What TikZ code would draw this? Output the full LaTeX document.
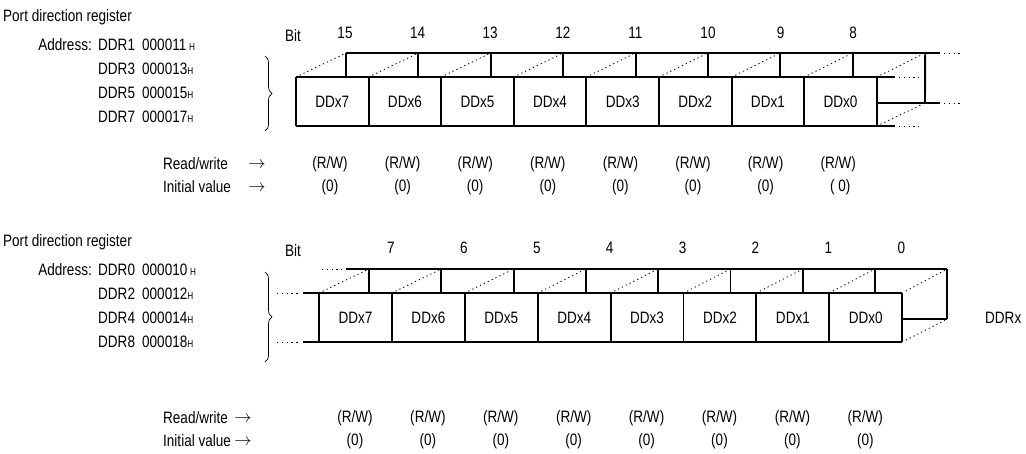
\documentclass[tikz,border=0pt]{standalone}
\usepackage{fontspec}
\setmainfont{Liberation Sans}[FakeStretch=0.82]
\usetikzlibrary{decorations.pathreplacing}
\begin{document}
\begin{tikzpicture}[x=1pt,y=-1pt,
  reg/.style={line width=1.9pt},
  hid/.style={line width=0.8pt, dash pattern=on 1.3pt off 3pt, shorten <=4pt, shorten >=3pt},
  cont/.style={line width=0.8pt, dash pattern=on 1.3pt off 3.5pt},
  txt/.style={inner sep=0pt, font=\fontsize{16.5}{19}\selectfont},
  br/.style={decorate, decoration={brace, amplitude=7pt}, line width=0.7pt}]
\useasboundingbox (0,0) rectangle (1026,454);
\newcommand{\Hs}{{\fontsize{10}{10}\selectfont H}}

% ---------------- top register ----------------
\foreach \i in {0,...,8} {
  \coordinate (TFt\i) at ({296+\i*72.6},77);
  \coordinate (TFb\i) at ({296+\i*72.6},126);
  \coordinate (TBt\i) at ({346+\i*72.4},53);
  \coordinate (TBb\i) at ({346+\i*72.4},77);
}
\coordinate (TBr) at (925,103);
\coordinate (TFtE) at (895,77);  \coordinate (TFtD) at (919,77);
\coordinate (TFbE) at (895,126); \coordinate (TFbD) at (919,126);
\coordinate (TBtE) at (940,53);  \coordinate (TBtD) at (963,53);
\coordinate (TBbE) at (940,103); \coordinate (TBbD) at (963,103);
\draw[reg] (TFt0) -- (TFtE);
\draw[reg] (TFb0) -- (TFbE);
\draw[reg] (TBt0) -- (TBtE);
\draw[reg] (TFt8 |- TBr) -- (TBbE);
\foreach \i in {0,...,8} \draw[reg] (TFt\i) -- (TFb\i);
\foreach \i in {0,...,7} \draw[reg] (TBt\i) -- (TBb\i);
\draw[reg] (TBt8) -- (TBr);
\foreach \i in {0,...,8} \draw[hid] (TFt\i) -- (TBt\i);
\draw[hid] (TFb8) -- (TBr);
\draw[cont] ([xshift=4pt]TFtE) -- (TFtD);
\draw[cont] ([xshift=4pt]TFbE) -- (TFbD);
\draw[cont] ([xshift=4pt]TBtE) -- (TBtD);
\draw[cont] ([xshift=4pt]TBbE) -- (TBbD);
\foreach \n [count=\i from 0] in {7,6,5,4,3,2,1,0}
  \node[txt] (tc\i) at ({332.3+\i*72.6},101.5) {DDx\n};

% labels top
\node[txt, anchor=west] (tpdr) at (3,17) {Port direction register};
\node[txt, anchor=east] (taddr) at (92,45) {Address:};
\foreach \r/\a/\y in {1/000011\,\Hs/45, 3/000013\Hs/69, 5/000015\Hs/93, 7/000017\Hs/117} {
  \node[txt, anchor=west] (tddr\r) at (98,\y) {DDR\r};
  \node[txt, anchor=west] (tad\r) at (142,\y) {\a};
}
\draw[br] (265,56) -- (265,131);
\node[txt, anchor=west] (tbit) at (285,36) {Bit};
\foreach \n [count=\i from 0] in {15,14,13,12,11,10,9,8}
  \node[txt] (tb\i) at ({345+\i*72.6},33) {\n};
\node[txt, anchor=west] (trw) at (163,164) {Read/write};
\node[txt, anchor=west] (tiv) at (163,187) {Initial value};
\node[txt] (trwa) at (257,165) {$\rightarrow$};
\node[txt] (tiva) at (257,188) {$\rightarrow$};
\foreach \i in {0,...,7} {
  \node[txt] (trw\i) at ({330+\i*72.6},164) {(R/W)};
}
\foreach \i in {0,...,6} {
  \node[txt] (tiv\i) at ({330+\i*72.6},187) {(0)};
}
\node[txt] (tiv7) at ({332+7*72.6},187) {( 0)};

% ---------------- bottom register ----------------
\foreach \i in {0,...,8} {
  \coordinate (BFt\i) at ({319+\i*72.9},293);
  \coordinate (BFb\i) at ({319+\i*72.9},342);
  \coordinate (BBt\i) at ({369+\i*72.3},269);
  \coordinate (BBb\i) at ({369+\i*72.3},293);
}
\coordinate (BBr) at ({369+8*72.3},319);
\coordinate (BFtS) at (303,293); \coordinate (BFtD) at (277,293);
\coordinate (BFbS) at (303,342); \coordinate (BFbD) at (277,342);
\coordinate (BBtS) at (346,269); \coordinate (BBtD) at (322,269);
\draw[reg] (BFtS) -- (BFt8);
\draw[reg] (BFbS) -- (BFb8);
\draw[reg] (BBtS) -- (BBt8);
\draw[reg] (BFt8 |- BBr) -- (BBr);
\foreach \i in {0,...,8} \draw[reg] (BFt\i) -- (BFb\i);
\foreach \i in {0,...,7} \draw[reg] (BBt\i) -- (BBb\i);
\draw[reg] (BBt8) -- (BBr);
\foreach \i in {0,...,8} \draw[hid] (BFt\i) -- (BBt\i);
\draw[hid] (BFb8) -- (BBr);
\draw[cont] (BFtD) -- ([xshift=-4pt]BFtS);
\draw[cont] (BFbD) -- ([xshift=-4pt]BFbS);
\draw[cont] (BBtD) -- ([xshift=-4pt]BBtS);
\foreach \n [count=\i from 0] in {7,6,5,4,3,2,1,0}
  \node[txt] (bc\i) at ({355.5+\i*72.9},317.5) {DDx\n};
\node[txt, anchor=west] (ddrx) at (985,318) {DDRx};

% labels bottom
\node[txt, anchor=west] (bpdr) at (3,242) {Port direction register};
\node[txt, anchor=east] (baddr) at (92,270) {Address:};
\foreach \r/\a/\y in {0/000010\,\Hs/270, 2/000012\Hs/294, 4/000014\Hs/318, 8/000018\Hs/342} {
  \node[txt, anchor=west] (bddr\r) at (98,\y) {DDR\r};
  \node[txt, anchor=west] (bad\r) at (142,\y) {\a};
}
\draw[br] (265,272) -- (265,362);
\node[txt, anchor=west] (bbit) at (285,251) {Bit};
\foreach \n [count=\i from 0] in {7,6,5,4,3,2,1,0}
  \node[txt] (bb\i) at ({391+\i*72.9},248) {\n};
\node[txt, anchor=west] (brw) at (163,418) {Read/write};
\node[txt, anchor=west] (biv) at (163,441) {Initial value};
\node[txt] (brwa) at (243,419) {$\rightarrow$};
\node[txt] (biva) at (243,442) {$\rightarrow$};
\foreach \i in {0,...,7} {
  \node[txt] (brw\i) at ({355+\i*72.9},418) {(R/W)};
  \node[txt] (biv\i) at ({355+\i*72.9},441) {(0)};
}
\end{tikzpicture}
\end{document}
